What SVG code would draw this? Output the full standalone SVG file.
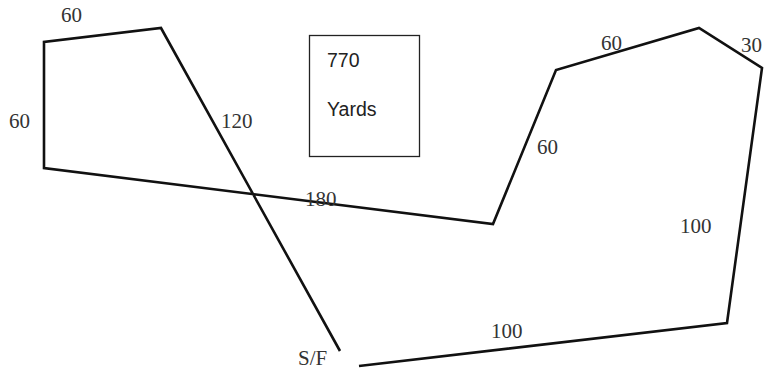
<svg xmlns="http://www.w3.org/2000/svg" width="765" height="373" viewBox="0 0 765 373">
<style>
.lbl{font-family:"Liberation Serif","Times New Roman",serif;font-size:21px;fill:#333}
.box{font-family:"Liberation Sans",Arial,sans-serif;font-size:19.5px;fill:#222}
.track{fill:none;stroke:#111;stroke-width:2.6;stroke-linejoin:miter}
</style>
<rect width="765" height="373" fill="#fff"/>
<g id="connectors">
<polyline class="track" points="340,351 161,28 44,42 44,168 493,224 556,70 699,28 762,68 727,323 359,366"/>
</g>
<g id="legend">
<rect x="309.5" y="35.5" width="110" height="121" fill="none" stroke="#222" stroke-width="1.3"/>
<text class="box" x="327" y="67">770</text>
<text class="box" x="327" y="116">Yards</text>
</g>
<g id="labels">
<text class="lbl" x="61" y="22">60</text>
<text class="lbl" x="9" y="128">60</text>
<text class="lbl" x="221" y="128">120</text>
<text class="lbl" x="305" y="206">180</text>
<text class="lbl" x="601" y="50">60</text>
<text class="lbl" x="741" y="52">30</text>
<text class="lbl" x="537" y="154">60</text>
<text class="lbl" x="680" y="233">100</text>
<text class="lbl" x="491" y="338">100</text>
<text class="lbl" x="298" y="365">S/F</text>
</g>
</svg>
